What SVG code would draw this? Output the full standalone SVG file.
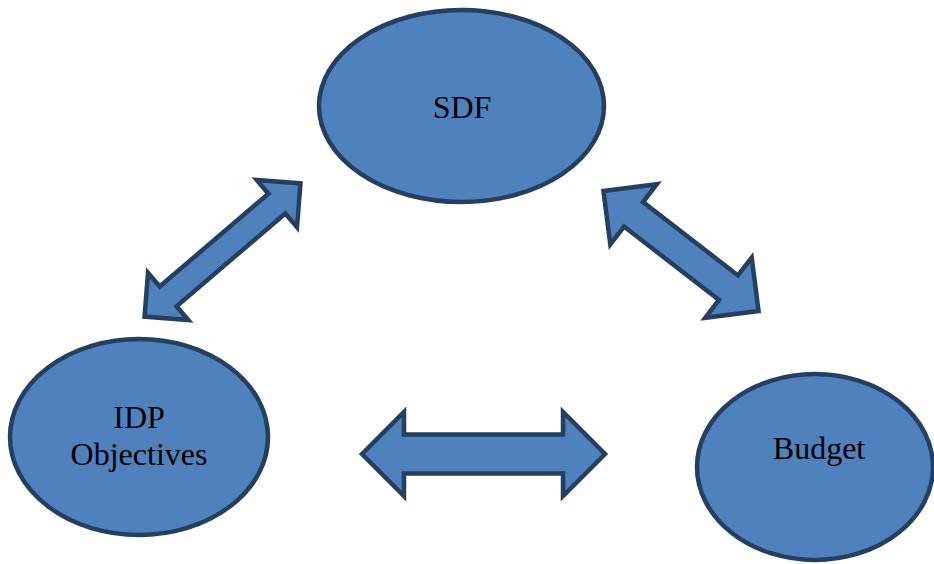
<svg xmlns="http://www.w3.org/2000/svg" width="934" height="564" viewBox="0 0 934 564">
<style>
.shape{fill:#4F81BD;stroke:#243F60;stroke-width:4.5;stroke-linejoin:miter}
.lbl{font-family:"Liberation Serif","Times New Roman",serif;font-size:32px;fill:#000;text-anchor:middle}
</style>
<rect width="934" height="564" fill="#fff"/>
<g id="connectors">
<polygon class="shape" points="-102.5,0 -71.5,-31 -71.5,-13 71.5,-13 71.5,-31 102.5,0 71.5,31 71.5,13 -71.5,13 -71.5,31" transform="translate(222.5,250) rotate(-40.5)"/>
<polygon class="shape" points="-98,0 -60,-38 -60,-15.5 60,-15.5 60,-38 98,0 60,38 60,15.5 -60,15.5 -60,38" transform="translate(681,251) rotate(37.7)"/>
<polygon class="shape" points="362,454 404,412 404,434.5 563,434.5 563,412 605,454 563,496 563,473.5 404,473.5 404,496"/>
</g>
<g id="sdf">
<ellipse class="shape" cx="461.5" cy="106" rx="142.5" ry="96"/>
<text class="lbl" x="462" y="118">SDF</text>
</g>
<g id="idp">
<ellipse class="shape" cx="139" cy="437" rx="129" ry="98"/>
<text class="lbl" x="139" y="428">IDP</text>
<text class="lbl" x="139" y="465">Objectives</text>
</g>
<g id="budget">
<ellipse class="shape" cx="815" cy="467" rx="118" ry="93"/>
<text class="lbl" x="819" y="459">Budget</text>
</g>
</svg>
